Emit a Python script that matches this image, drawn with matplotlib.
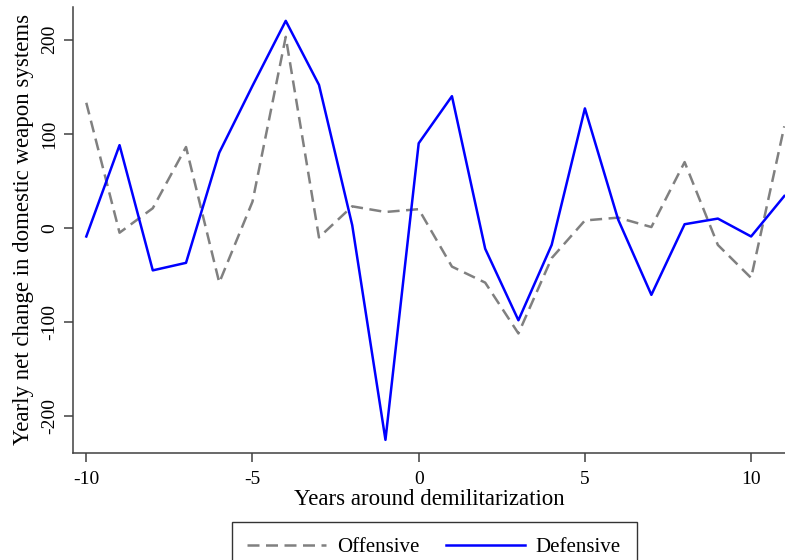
import matplotlib
matplotlib.use("Agg")
import matplotlib.pyplot as plt

years = list(range(-10, 12))
offensive = [133, -5, 21, 86, -58, 28, 203, -10, 23, 17, 20, -41, -58, -112,
             -32, 8, 11, 1, 70, -18, -53, 108]
defensive = [-9, 88, -45, -37, 80, 151, 220, 152, 3, -225, 90, 140, -22, -98,
             -18, 127, 9, -71, 4, 10, -9, 34]

plt.rcParams["font.family"] = ["Liberation Serif", "DejaVu Serif"]
plt.rcParams["axes.unicode_minus"] = False

fig = plt.figure(figsize=(7.85, 5.6), dpi=100)
ax = fig.add_axes([0.093, 0.191, 0.907, 0.797])

ax.plot(years, offensive, color="#808080", lw=1.8, dashes=(4.8, 2.6), label="Offensive")
ax.plot(years, defensive, color="#0000ff", lw=1.8, label="Defensive")

ax.set_xlim(-10.4, 11.02)
ax.set_ylim(-239, 235)
ax.set_xticks([-10, -5, 0, 5, 10])
ax.set_yticks([-200, -100, 0, 100, 200])
for s in ["top", "right"]:
    ax.spines[s].set_visible(False)
for s in ["left", "bottom"]:
    ax.spines[s].set_color("#404040")
    ax.spines[s].set_linewidth(1.1)
ax.tick_params(direction="out", length=6.5, width=1.1, color="#404040",
               labelsize=14, pad=4)
ax.tick_params(axis="x", pad=6.5)
for lab in ax.get_yticklabels():
    lab.set_rotation(90)
    lab.set_va("center")

ax.set_xlabel("Years around demilitarization", fontsize=16.5, labelpad=0.5)
ax.set_ylabel("Yearly net change in domestic weapon systems", fontsize=16.5,
              labelpad=5)

leg = fig.legend(loc="upper center", bbox_to_anchor=(0.553, 0.068), ncol=2,
                 frameon=True, fancybox=False, edgecolor="black", fontsize=15,
                 handlelength=3.8, handletextpad=0.5, columnspacing=1.3,
                 borderpad=0.75, borderaxespad=0)
leg.get_frame().set_linewidth(1.0)

fig.savefig("out.png", dpi=100)
